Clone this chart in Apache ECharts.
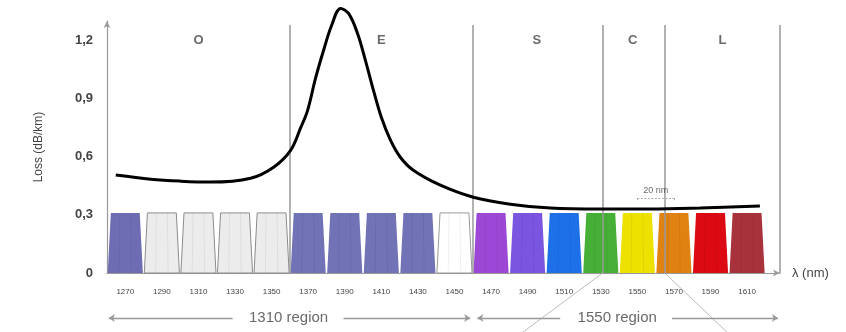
<!DOCTYPE html>
<html>
<head>
<meta charset="utf-8">
<script src="https://cdn.jsdelivr.net/npm/echarts@6/dist/echarts.min.js"></script>
<style>
html,body{margin:0;padding:0;background:#fff}
#chart{width:846px;height:332px}
</style>
</head>
<body>
<div id="chart"></div>
<script>
// CWDM channels (nm) and their drawn height
var channels = [1270,1290,1310,1330,1350,1370,1390,1410,1430,1450,1470,1490,1510,1530,1550,1570,1590,1610];
var channelLoss = [0.31,0.31,0.31,0.31,0.31,0.31,0.31,0.31,0.31,0.31,0.31,0.31,0.31,0.31,0.31,0.31,0.31,0.31];
var channelColors = ['#6e6db3','#ececec','#ececec','#ececec','#ececec','#7272b6','#7272b6','#7272b6','#7272b6','#ffffff',
    '#9d47d6','#7a55e0','#1e70e8','#45b035','#ede100','#df8212','#dc0a12','#a8323b'];
var channelBorders = ['none','#8c8c8c','#8c8c8c','#8c8c8c','#8c8c8c','none','none','none','none','#999999',
    'none','none','none','none','none','none','none','none'];

// attenuation curve
var curveNm = [1264.8,1283.9,1300,1316.7,1338.5,1351.1,1360.4,1365.8,1369.7,1374,1378.4,1382.8,1387.7,1392.1,1397,1401.3,
    1405.7,1410,1415,1420.4,1427.5,1442.3,1460.3,1480.5,1502.4,1529.7,1557,1584.3,1617];
var curveLoss = [0.505,0.484,0.474,0.469,0.489,0.546,0.633,0.747,0.839,1.004,1.148,1.277,1.365,1.339,1.236,1.097,
    0.942,0.803,0.685,0.597,0.530,0.453,0.391,0.355,0.335,0.330,0.330,0.335,0.345];

// bands
var bandEdges = [1360,1460,1531,1565,1628];
var bandNames = ['O','E','S','C','L'];
var bandCenters = [1310,1410,1495,1547.5,1596.5];

var yTicks = [0,0.3,0.6,0.9,1.2];

var bandLines = bandEdges.map(function (e) {
    return {coords: [[e, 0], [e, 1.28]]};
});

var zoomLines = [
    {coords: [[1531, 0], [1481, -0.35]]},
    {coords: [[1565, 0], [1604, -0.35]]}
];

var spacingLines = [
    {coords: [[1550, 0.386], [1570, 0.386]]},
    {coords: [[1550, 0.386], [1550, 0.37]]},
    {coords: [[1570, 0.386], [1570, 0.37]]}
];

var regionArrows = [
    {coords: [[1328.7, -0.232], [1261, -0.232]]},
    {coords: [[1389.3, -0.232], [1458.6, -0.232]]},
    {coords: [[1507.8, -0.232], [1462.5, -0.232]]},
    {coords: [[1569, -0.232], [1626.9, -0.232]]}
];
var regionNames = ['1310 region', '1550 region'];
var regionCenters = [1359.3, 1539];

var chart = echarts.init(document.getElementById('chart'));

var option = {
    animation: false,
    grid: {left: 107, right: 66, top: 21, bottom: 59},
    xAxis: {
        type: 'value',
        min: 1260,
        max: 1628,
        interval: 10,
        name: 'λ (nm)',
        nameLocation: 'end',
        nameGap: 12,
        nameTextStyle: {fontSize: 13, color: '#444', fontFamily: 'Liberation Sans', verticalAlign: 'middle'},
        splitLine: {show: false},
        axisTick: {show: false},
        axisLine: {lineStyle: {color: '#999', width: 1.2}, symbol: ['none', 'arrow'], symbolSize: [5, 7]},
        axisLabel: {
            showMaxLabel: false,
            margin: 15,
            fontSize: 8,
            color: '#444',
            fontFamily: 'Liberation Sans',
            formatter: function (v) {
                return channels.indexOf(Math.round(v)) >= 0 ? String(Math.round(v)) : '';
            }
        }
    },
    yAxis: {
        type: 'value',
        min: 0,
        max: 1.3,
        interval: 0.3,
        name: 'Loss (dB/km)',
        nameLocation: 'middle',
        nameGap: 62,
        nameTextStyle: {fontSize: 12, color: '#444', fontFamily: 'Liberation Sans'},
        splitLine: {show: false},
        axisTick: {show: false},
        axisLine: {show: true, lineStyle: {color: '#999', width: 1.2}, symbol: ['none', 'arrow'], symbolSize: [5, 7]},
        axisLabel: {
            showMaxLabel: false,
            margin: 14,
            fontSize: 13,
            fontWeight: 'bold',
            color: '#444',
            fontFamily: 'Liberation Sans',
            formatter: function (v) {
                var t = yTicks.filter(function (k) { return Math.abs(k - v) < 1e-6; });
                if (!t.length) return '';
                return v === 0 ? '0' : v.toFixed(1).replace('.', ',');
            }
        }
    },
    series: [
        {
            type: 'custom',
            z: 2,
            clip: false,
            data: channels.map(function (c, i) { return [c, channelLoss[i]]; }),
            renderItem: function (params, api) {
                var nm = api.value(0), h = api.value(1);
                var i = params.dataIndex;
                var tl = api.coord([nm - 7.9, h]), tr = api.coord([nm + 7.9, h]);
                var br = api.coord([nm + 9.6, 0]), bl = api.coord([nm - 9.6, 0]);
                var a1 = api.coord([nm - 3, h]), a2 = api.coord([nm - 3.4, 0]);
                var b1 = api.coord([nm + 3, h]), b2 = api.coord([nm + 3.4, 0]);
                return {
                    type: 'group',
                    children: [
                        {type: 'polygon', shape: {points: [tl, tr, br, bl]},
                            style: {fill: channelColors[i], stroke: channelBorders[i] === 'none' ? null : channelBorders[i], lineWidth: 1}},
                        {type: 'line', shape: {x1: a1[0], y1: a1[1], x2: a2[0], y2: a2[1]}, style: {stroke: 'rgba(0,0,0,0.06)', lineWidth: 1}},
                        {type: 'line', shape: {x1: b1[0], y1: b1[1], x2: b2[0], y2: b2[1]}, style: {stroke: 'rgba(0,0,0,0.06)', lineWidth: 1}}
                    ]
                };
            }
        },
        {
            type: 'lines',
            coordinateSystem: 'cartesian2d',
            z: 3,
            clip: false,
            lineStyle: {color: '#999', width: 1.5, opacity: 1},
            data: bandLines
        },
        {
            type: 'lines',
            coordinateSystem: 'cartesian2d',
            z: 3,
            clip: false,
            lineStyle: {color: '#bbb', width: 1, opacity: 1},
            data: zoomLines
        },
        {
            type: 'lines',
            coordinateSystem: 'cartesian2d',
            z: 3,
            clip: false,
            lineStyle: {color: '#aaa', width: 1, type: [2, 1.5], opacity: 1},
            data: spacingLines
        },
        {
            type: 'lines',
            coordinateSystem: 'cartesian2d',
            z: 3,
            clip: false,
            symbol: ['none', 'arrow'],
            symbolSize: 6,
            lineStyle: {color: '#999', width: 1.3, opacity: 1},
            data: regionArrows
        },
        {
            type: 'line',
            z: 4,
            clip: false,
            smooth: 0.35,
            showSymbol: false,
            symbol: 'none',
            lineStyle: {color: '#000', width: 3},
            data: curveNm.map(function (n, i) { return [n, curveLoss[i]]; })
        },
        {
            type: 'scatter',
            z: 5,
            clip: false,
            symbolSize: 0,
            silent: true,
            data: bandCenters.map(function (c) { return [c, 1.2]; }),
            label: {
                show: true,
                position: 'inside',
                fontSize: 13,
                fontWeight: 'bold',
                color: '#444',
                fontFamily: 'Liberation Sans',
                formatter: function (p) { return bandNames[p.dataIndex]; }
            }
        },
        {
            type: 'scatter',
            z: 5,
            clip: false,
            symbolSize: 0,
            silent: true,
            data: regionCenters.map(function (c) { return [c, -0.232]; }),
            label: {
                show: true,
                position: 'inside',
                fontSize: 15,
                color: '#444',
                fontFamily: 'Liberation Sans',
                formatter: function (p) { return regionNames[p.dataIndex]; }
            }
        },
        {
            type: 'scatter',
            z: 5,
            clip: false,
            symbolSize: 0,
            silent: true,
            data: [[1560, 0.427]],
            label: {
                show: true,
                position: 'inside',
                fontSize: 9,
                color: '#444',
                fontFamily: 'Liberation Sans',
                formatter: '20 nm'
            }
        }
    ]
};

chart.setOption(option);
</script>
</body>
</html>
